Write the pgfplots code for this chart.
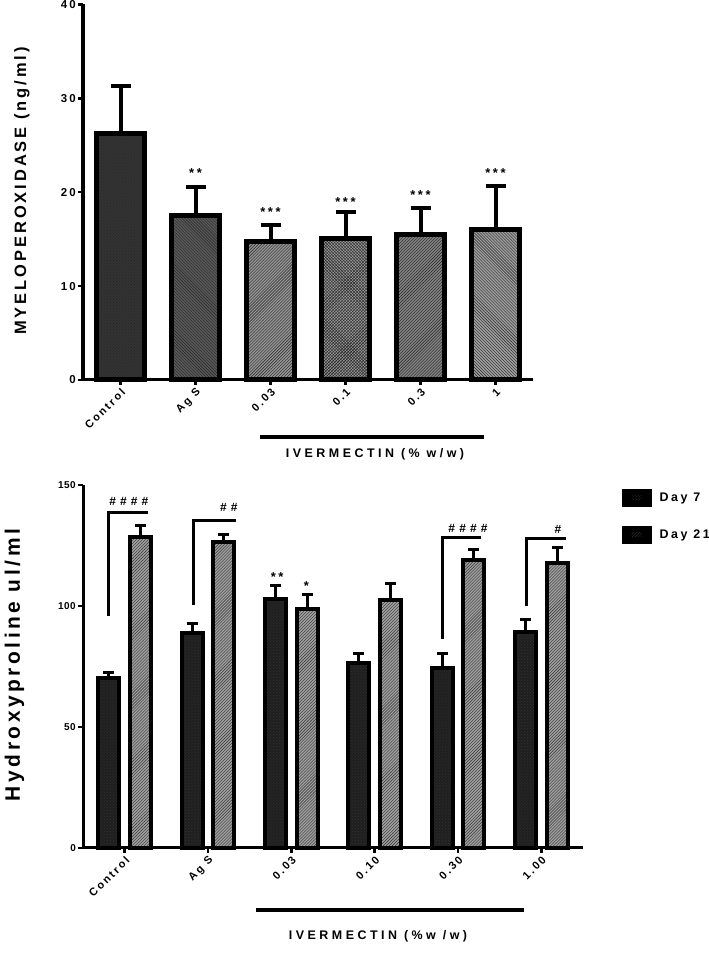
\documentclass[border=0pt]{standalone}
\usepackage{fontspec}
\setmainfont[LetterSpace=20]{Liberation Sans}
\usepackage{pgfplots}
\pgfplotsset{compat=1.18}
\usetikzlibrary{patterns}
\newcommand{\fs}[1]{\fontsize{#1}{#1}\selectfont\bfseries}

\pgfplotsset{
  topbar/.style 2 args={ybar, bar width=48bp, bar shift=0pt, draw=black, line width=5bp,
    preaction={fill=#1}, pattern=#2, pattern color=black!85,
    error bars/y dir=plus, error bars/y explicit,
    error bars/error bar style={line width=4bp, black},
    error bars/error mark options={rotate=90, line width=4bp, mark size=10bp, black}},
  botbar/.style 2 args={ybar, bar width=21bp, bar shift=0pt, draw=black, line width=4bp,
    preaction={fill=#1}, pattern=#2, pattern color=black!80,
    error bars/y dir=plus, error bars/y explicit,
    error bars/error bar style={line width=3bp, black},
    error bars/error mark options={rotate=90, line width=3bp, mark size=5.5bp, black}},
  myaxis/.style={scale only axis, anchor=south west,
    xmin=-0.5, xmax=5.5, ymin=0,
    axis x line*=bottom, axis y line*=left,
    axis line style={line width=3bp},
    tick align=outside, major tick length=5bp,
    every tick/.style={black, line width=2.5bp},
    xtick={0,...,5},
    /pgf/number format/assume math mode=true,
    xticklabel style={font=\fs{11}, rotate=45, anchor=north east, inner sep=1.5bp},
    clip=false}
}

\begin{document}
\begin{tikzpicture}
\useasboundingbox (0,0) rectangle (709bp,966bp);

% ---------------- top chart ----------------
\begin{axis}[myaxis, at={(83bp,586bp)}, width=450bp, height=375.5bp,
  ymax=40, ytick={0,10,20,30,40},
  yticklabel style={font=\fs{11.5}, inner sep=2bp},
  xticklabels={Control,Ag S,0.03,0.1,0.3,1}]
\addplot[topbar={black!80}{crosshatch dots}] coordinates {(0,26.3) +- (0,5.0)};
\addplot[topbar={black!65}{north west lines}] coordinates {(1,17.5) +- (0,3.1)};
\addplot[topbar={black!42}{north east lines}] coordinates {(2,14.7) +- (0,1.8)};
\addplot[topbar={black!40}{crosshatch}] coordinates {(3,15.05) +- (0,2.85)};
\addplot[topbar={black!50}{north east lines}] coordinates {(4,15.5) +- (0,2.8)};
\addplot[topbar={black!38}{north west lines}] coordinates {(5,16.0) +- (0,4.7)};
\node[font=\fs{13}] at (axis cs:1,22.0) {**};
\node[font=\fs{13}] at (axis cs:2,17.9) {***};
\node[font=\fs{13}] at (axis cs:3,19.0) {***};
\node[font=\fs{13}] at (axis cs:4,19.7) {***};
\node[font=\fs{13}] at (axis cs:5,22.0) {***};
\end{axis}
\draw[line width=4bp] (260bp,529bp) -- (484bp,529bp);
\node[font=\fs{12.5}] at (375bp,512bp) {\addfontfeature{LetterSpace=28}IVERMECTIN (\% w/w)};
\node[font=\fs{16.5}, rotate=90] at (22bp,775bp) {\addfontfeature{LetterSpace=18}MYELOPEROXIDASE (ng/ml)};

% ---------------- bottom chart ----------------
\begin{axis}[myaxis, at={(83bp,118bp)}, width=500bp, height=363bp,
  ymax=150, ytick={0,50,100,150},
  yticklabel style={font=\fs{10}\addfontfeature{LetterSpace=5}, inner sep=2bp},
  xticklabels={Control,Ag S,0.03,0.10,0.30,1.00},
  legend style={draw=none, fill=none, at={(1.077,0.99)}, anchor=north west,
    font=\fs{12.5}, row sep=19bp, inner sep=0pt, nodes={inner sep=0pt},
    /tikz/every odd column/.append style={column sep=8bp}},
  legend cell align=left,
  legend image code/.code={\fill[black] (0bp,-7bp) rectangle (26bp,7bp);
     \path[#1, draw=none] (8bp,-2bp) rectangle (18bp,2bp);}]
\addplot[botbar={black!88}{crosshatch dots}] coordinates {
 (-0.19,70.2) +- (0,2.2)
 (0.81,88.9) +- (0,3.9)
 (1.81,102.9) +- (0,5.5)
 (2.81,76.5) +- (0,3.9)
 (3.81,74.4) +- (0,6.0)
 (4.81,89.2) +- (0,5.2)};
\addlegendentry{Day 7}
\addplot[botbar={black!38}{north east lines}] coordinates {
 (0.19,128.5) +- (0,4.9)
 (1.19,126.5) +- (0,2.9)
 (2.19,98.8) +- (0,6.0)
 (3.19,102.5) +- (0,6.9)
 (4.19,119.0) +- (0,4.4)
 (5.19,117.8) +- (0,6.4)};
\addlegendentry{Day 21}
\draw[line width=3bp] (axis cs:-0.19,96) -- (axis cs:-0.19,138.5) -- (axis cs:0.28,138.5);
\draw[line width=3bp] (axis cs:0.82,100.4) -- (axis cs:0.82,135.5) -- (axis cs:1.34,135.5);
\draw[line width=3bp] (axis cs:3.81,86.4) -- (axis cs:3.81,128.5) -- (axis cs:4.27,128.5);
\draw[line width=3bp] (axis cs:4.82,100) -- (axis cs:4.82,128) -- (axis cs:5.30,128);
\node[font=\fs{12}] at (axis cs:0.05,143.4) {\addfontfeature{LetterSpace=35}\#\#\#\#};
\node[font=\fs{12}] at (axis cs:1.25,140.9) {\addfontfeature{LetterSpace=35}\#\#};
\node[font=\fs{12}] at (axis cs:4.12,132.2) {\addfontfeature{LetterSpace=35}\#\#\#\#};
\node[font=\fs{12}] at (axis cs:5.2,131.8) {\#};
\node[font=\fs{13}] at (axis cs:1.83,112.0) {**};
\node[font=\fs{13}] at (axis cs:2.18,108.3) {*};
\end{axis}
\draw[line width=4bp] (256bp,56bp) -- (524bp,56bp);
\node[font=\fs{12.5}] at (378bp,30bp) {\addfontfeature{LetterSpace=28}IVERMECTIN (\%w /w)};
\node[font=\fs{21}, rotate=90] at (14.5bp,301bp) {\addfontfeature{LetterSpace=17}Hydroxyproline ul/ml};
\end{tikzpicture}
\end{document}
